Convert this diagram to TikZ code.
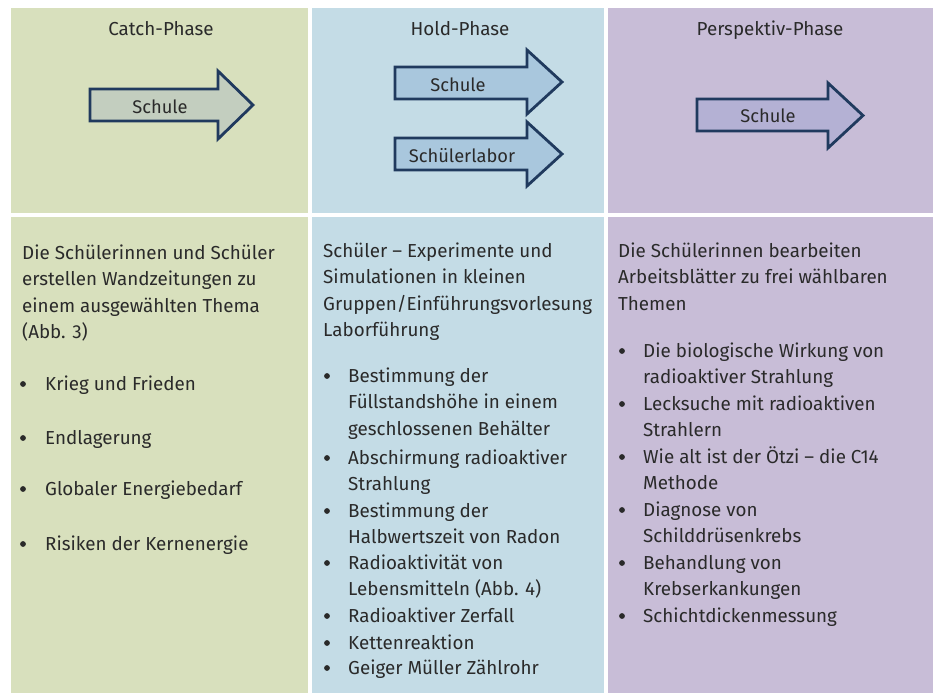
\documentclass[tikz,border=0pt]{standalone}
\usepackage{fontspec}
\setmainfont{Fira Sans}
\definecolor{bgG}{HTML}{D8E0BD}
\definecolor{bgB}{HTML}{C4DCE6}
\definecolor{bgP}{HTML}{C8BDD7}
\definecolor{arG}{HTML}{C3CEBF}
\definecolor{arB}{HTML}{A9C7DD}
\definecolor{arP}{HTML}{B4B1D4}
\definecolor{navy}{HTML}{203A5E}
\definecolor{txt}{HTML}{2A2A2A}
\begin{document}
\begin{tikzpicture}[x=1pt,y=-1pt,
  arrowshape/.style={draw=navy,line width=2.8pt,line join=miter},
  title/.style={anchor=base,inner sep=0pt,font=\fontsize{18.8}{22}\selectfont,text=txt},
  alabel/.style={anchor=center,inner sep=0pt,font=\fontsize{18.3}{20}\selectfont,text=txt},
  para/.style={anchor=base west,align=left,inner sep=0pt,font=\fontsize{18.8}{26.5}\selectfont,text=txt},
  bul/.style={fill=txt}
]
\useasboundingbox (0,0) rectangle (933,693);
\fill[white] (0,0) rectangle (933,693);
% panels
\fill[bgG] (11,8) rectangle (308,213);
\fill[bgG] (11,217) rectangle (308,693);
\fill[bgB] (312,8) rectangle (604,213);
\fill[bgB] (312,217) rectangle (604,693);
\fill[bgP] (608,8) rectangle (933,213);
\fill[bgP] (608,217) rectangle (933,693);
% titles
\node[title] (t1) at (161,35.5) {Catch-Phase};
\node[title] (t2) at (460,35.5) {Hold-Phase};
\node[title] (t3) at (770,35.5) {Perspektiv-Phase};
% arrows
\draw[arrowshape,fill=arG] (90,89) -- (218,89) -- (218,71) -- (253,105) -- (218,139) -- (218,121) -- (90,121) -- cycle;
\node[alabel] (a1) at (160,107) {Schule};
\draw[arrowshape,fill=arB] (395,67) -- (527,67) -- (527,50) -- (562,82) -- (527,114) -- (527,99) -- (395,99) -- cycle;
\node[alabel] (a2) at (458,85) {Schule};
\draw[arrowshape,fill=arB] (395,138) -- (527,138) -- (527,122) -- (562,154) -- (527,186) -- (527,170) -- (395,170) -- cycle;
\node[alabel] (a3) at (462,156) {Schülerlabor};
\draw[arrowshape,fill=arP] (697,99) -- (828,99) -- (828,83) -- (863,115.5) -- (828,148) -- (828,131) -- (697,131) -- cycle;
\node[alabel] (a4) at (768,116) {Schule};
\begin{scope}[shift={(0,2)}]
% column 1 (node anchored at baseline of its last line)
\node[para] (p1) at (22,336.5) {Die Schülerinnen und Schüler\\erstellen Wandzeitungen zu\\einem ausgewählten Thema\\(Abb. 3)};
\node[para] (c1a) at (45,388) {Krieg und Frieden};
\node[para] (c1b) at (45,442) {Endlagerung};
\node[para] (c1c) at (45,493) {Globaler Energiebedarf};
\node[para] (c1d) at (45,548) {Risiken der Kernenergie};
\foreach \y in {388,442,493,548} \fill[bul] (23,\y-6) circle (2.9);
% column 2
\node[para] (p2) at (323,334.5) {Schüler – Experimente und\\Simulationen in kleinen\\Gruppen/Einführungsvorlesung\\Laborführung};
\node[para] (c2a) at (348,433) {Bestimmung der\\Füllstandshöhe in einem\\geschlossenen Behälter};
\node[para] (c2b) at (348,488.5) {Abschirmung radioaktiver\\Strahlung};
\node[para] (c2c) at (348,541.5) {Bestimmung der\\Halbwertszeit von Radon};
\node[para] (c2d) at (348,593.5) {Radioaktivität von\\Lebensmitteln (Abb. 4)};
\node[para] (c2e) at (348,620) {Radioaktiver Zerfall};
\node[para] (c2f) at (348,647) {Kettenreaktion};
\node[para] (c2g) at (348,672) {Geiger Müller Zählrohr};
\foreach \y in {380,462,515,567,620,647,672} \fill[bul] (327,\y-6) circle (2.9);
% column 3
\node[para] (p3) at (618,308) {Die Schülerinnen bearbeiten\\Arbeitsblätter zu frei wählbaren\\Themen};
\node[para] (c3a) at (643,381.5) {Die biologische Wirkung von\\radioaktiver Strahlung};
\node[para] (c3b) at (643,434.5) {Lecksuche mit radioaktiven\\Strahlern};
\node[para] (c3c) at (643,487.5) {Wie alt ist der Ötzi – die C14\\Methode};
\node[para] (c3d) at (643,540.5) {Diagnose von\\Schilddrüsenkrebs};
\node[para] (c3e) at (643,593.5) {Behandlung von\\Krebserkankungen};
\node[para] (c3f) at (643,620) {Schichtdickenmessung};
\foreach \y in {355,408,461,514,567,620} \fill[bul] (622,\y-6) circle (2.9);
\end{scope}
\end{tikzpicture}
\end{document}
